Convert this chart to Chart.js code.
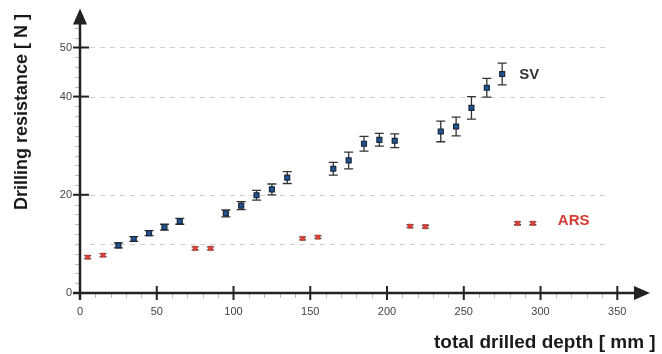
<!DOCTYPE html>
<html>
<head>
<meta charset="utf-8">
<script src="https://cdn.jsdelivr.net/npm/chart.js@4"></script>
<style>
  html, body { margin: 0; padding: 0; background: #fff; }
  #wrap { width: 662px; height: 354px; }
</style>
</head>
<body>
<div id="wrap"><canvas id="myChart" width="662" height="354"></canvas></div>
<script>
// SV series
const svDepth = [25, 35, 45, 55, 65, 95, 105, 115, 125, 135, 165, 175, 185, 195, 205, 235, 245, 255, 265, 275];
const svForce = [9.7, 11.0, 12.2, 13.4, 14.6, 16.2, 17.8, 19.9, 21.1, 23.5, 25.3, 27.0, 30.4, 31.2, 31.0, 32.9, 33.9, 37.7, 41.8, 44.6];
const svErr = [0.5, 0.5, 0.5, 0.6, 0.6, 0.7, 0.8, 1.0, 1.1, 1.2, 1.3, 1.7, 1.5, 1.3, 1.4, 2.1, 1.9, 2.3, 1.9, 2.2];

// ARS series
const arsDepth = [5, 15, 75, 85, 145, 155, 215, 225, 285, 295];
const arsForce = [7.3, 7.7, 9.1, 9.1, 11.1, 11.4, 13.6, 13.5, 14.2, 14.2];
const arsErr = [0.3, 0.3, 0.3, 0.3, 0.3, 0.3, 0.3, 0.3, 0.3, 0.3];

const xTicks = [0, 50, 100, 150, 200, 250, 300, 350];
const yTicks = [0, 10, 20, 30, 40, 50];
const yLabelled = [0, 20, 40, 50];
const yGrid = [10, 20, 40, 50];

const axisColor = '#222';
const font = 'Liberation Sans, Arial, sans-serif';

// error bars, axes with arrows, tick marks, annotations
const extras = {
  id: 'extras',
  beforeDatasetsDraw(chart) {
    const {ctx, scales: {x, y}} = chart;
    ctx.save();
    // dashed gridlines
    ctx.strokeStyle = '#cfcfcf';
    ctx.lineWidth = 1;
    ctx.setLineDash([5, 5]);
    yGrid.forEach(v => {
      const py = Math.round(y.getPixelForValue(v)) + 0.5;
      ctx.beginPath();
      ctx.moveTo(x.getPixelForValue(0) + 10, py);
      ctx.lineTo(x.getPixelForValue(343), py);
      ctx.stroke();
    });
    ctx.setLineDash([]);

    // error bars
    const drawErr = (xs, ys, es, color, cap) => {
      ctx.strokeStyle = color;
      ctx.lineWidth = 1.3;
      xs.forEach((d, i) => {
        const px = x.getPixelForValue(d);
        const top = y.getPixelForValue(ys[i] + es[i]);
        const bot = y.getPixelForValue(ys[i] - es[i]);
        ctx.beginPath();
        ctx.moveTo(px, top); ctx.lineTo(px, bot);
        ctx.moveTo(px - cap, top); ctx.lineTo(px + cap, top);
        ctx.moveTo(px - cap, bot); ctx.lineTo(px + cap, bot);
        ctx.stroke();
      });
    };
    drawErr(svDepth, svForce, svErr, '#333', 4.5);
    drawErr(arsDepth, arsForce, arsErr, '#444', 3.5);
    ctx.restore();
  },
  afterDraw(chart) {
    const {ctx, scales: {x, y}} = chart;
    const x0 = x.getPixelForValue(0);
    const y0 = y.getPixelForValue(0);
    ctx.save();

    // minor ticks
    ctx.strokeStyle = '#bbb';
    ctx.lineWidth = 1;
    for (let v = 10; v <= 340; v += 10) {
      if (v % 50 === 0) continue;
      const px = Math.round(x.getPixelForValue(v)) + 0.5;
      ctx.beginPath(); ctx.moveTo(px, y0); ctx.lineTo(px, y0 + 5); ctx.stroke();
    }
    for (let v = 2; v <= 56; v += 2) {
      if (yLabelled.includes(v)) continue;
      const py = Math.round(y.getPixelForValue(v)) + 0.5;
      ctx.beginPath(); ctx.moveTo(x0 - 5, py); ctx.lineTo(x0, py); ctx.stroke();
    }

    // axes
    const top = chart.chartArea.top - 4;
    const right = chart.chartArea.right;
    ctx.strokeStyle = axisColor;
    ctx.fillStyle = axisColor;
    ctx.lineWidth = 2.5;
    ctx.beginPath();
    ctx.moveTo(x0, y0 + 7); ctx.lineTo(x0, top + 10);
    ctx.moveTo(x0 - 7, y0); ctx.lineTo(right - 10, y0);
    ctx.stroke();
    // arrow heads
    ctx.beginPath();
    ctx.moveTo(x0, top - 2);
    ctx.lineTo(x0 - 7, top + 14);
    ctx.lineTo(x0 + 7, top + 14);
    ctx.closePath(); ctx.fill();
    ctx.beginPath();
    ctx.moveTo(right + 2, y0);
    ctx.lineTo(right - 14, y0 - 7);
    ctx.lineTo(right - 14, y0 + 7);
    ctx.closePath(); ctx.fill();

    // major ticks
    ctx.lineWidth = 2;
    xTicks.forEach(v => {
      if (v === 0) return;
      const px = x.getPixelForValue(v);
      ctx.beginPath(); ctx.moveTo(px, y0 - 7); ctx.lineTo(px, y0 + 7); ctx.stroke();
    });
    yLabelled.forEach(v => {
      if (v === 0) return;
      const py = y.getPixelForValue(v);
      ctx.beginPath(); ctx.moveTo(x0 - 7, py); ctx.lineTo(x0 + 9, py); ctx.stroke();
    });

    // series labels
    ctx.textBaseline = 'middle';
    ctx.textAlign = 'left';
    ctx.font = 'bold 15px ' + font;
    ctx.fillStyle = '#333';
    const svLast = svDepth.length - 1;
    ctx.fillText('SV', x.getPixelForValue(svDepth[svLast]) + 17, y.getPixelForValue(svForce[svLast]) + 1);
    ctx.fillStyle = '#d63c34';
    const arsLast = arsDepth.length - 1;
    ctx.fillText('ARS', x.getPixelForValue(arsDepth[arsLast]) + 25, y.getPixelForValue(arsForce[arsLast]) - 2);

    // axis titles
    ctx.fillStyle = '#1a1a1a';
    ctx.font = 'bold 19px ' + font;
    ctx.textAlign = 'left';
    ctx.fillText('total drilled depth [ mm ]', 434, 343);
    ctx.translate(22, 112);
    ctx.rotate(-Math.PI / 2);
    ctx.textAlign = 'center';
    ctx.font = 'bold 18px ' + font;
    ctx.fillText('Drilling resistance [ N ]', 0, 0);
    ctx.restore();
  }
};

const ctx = document.getElementById('myChart');

new Chart(ctx, {
  type: 'scatter',
  data: {
    datasets: [{
      label: 'SV',
      data: svDepth.map((d, i) => ({x: d, y: svForce[i]})),
      pointStyle: 'rect',
      pointRadius: 3.5,
      pointHoverRadius: 3.5,
      backgroundColor: '#1f5597',
      borderColor: '#1a2638',
      borderWidth: 1.2
    }, {
      label: 'ARS',
      data: arsDepth.map((d, i) => ({x: d, y: arsForce[i]})),
      pointStyle: 'rect',
      pointRadius: 3,
      pointHoverRadius: 3,
      backgroundColor: '#d94236',
      borderColor: '#b8322a',
      borderWidth: 0.5
    }]
  },
  options: {
    responsive: false,
    animation: false,
    layout: { padding: { top: 6, right: 14, left: 0, bottom: 0 } },
    plugins: {
      legend: { display: false },
      tooltip: { enabled: false }
    },
    scales: {
      x: {
        type: 'linear',
        min: 0,
        max: 370,
        border: { display: false },
        grid: { display: false, drawTicks: false },
        afterBuildTicks: s => { s.ticks = xTicks.map(v => ({value: v})); },
        afterFit: s => { s.height = 61; },
        ticks: {
          padding: 12,
          color: '#444',
          font: { family: font, size: 11 }
        }
      },
      y: {
        min: 0,
        max: 56.7,
        border: { display: false },
        grid: { display: false, drawTicks: false },
        afterBuildTicks: s => { s.ticks = yTicks.map(v => ({value: v})); },
        afterFit: s => { s.width = 80; },
        ticks: {
          padding: 8,
          color: '#444',
          font: { family: font, size: 11 },
          callback: v => yLabelled.includes(v) ? String(v) : ''
        }
      }
    }
  },
  plugins: [extras]
});
</script>
</body>
</html>
